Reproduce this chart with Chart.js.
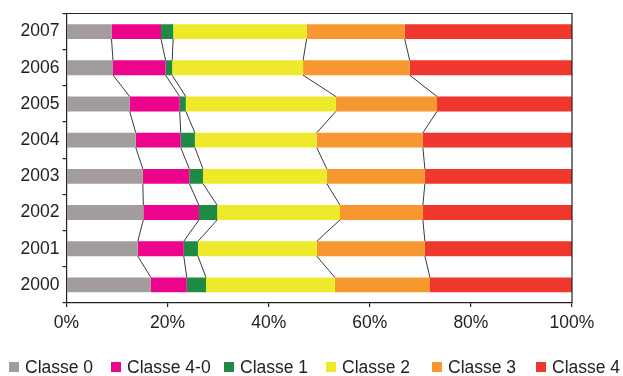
<!DOCTYPE html>
<html>
<head>
<meta charset="utf-8">
<script src="https://cdn.jsdelivr.net/npm/chart.js@4/dist/chart.umd.min.js"></script>
<style>
  html, body { margin: 0; padding: 0; background: #fff; }
  #wrap { position: relative; width: 623px; height: 376px; }
  #legend {
    position: absolute; left: 0; top: 356px; width: 623px; height: 22px;
    font: 17.5px "Liberation Sans", Arial, sans-serif; color: #222;
    white-space: nowrap;
  }
  #legend .item { position: absolute; top: 0; display: flex; align-items: center; height: 22px; }
  #legend .box { width: 10px; height: 10px; margin-right: 6px; }
</style>
</head>
<body>
<div id="wrap">
  <canvas id="c"></canvas>
  <div id="legend"></div>
</div>
<script>
// Years, top row first
const years = ['2007', '2006', '2005', '2004', '2003', '2002', '2001', '2000'];

// Share of each class per year (%)
const classe0  = [8.9, 9.2, 12.5, 13.7, 15.1, 15.2, 14.1, 16.7];
const classe40 = [9.8, 10.4, 9.9, 8.9, 9.2, 11.0, 9.1, 7.1];
const classe1  = [2.4, 1.3, 1.2, 2.8, 2.7, 3.6, 2.8, 3.8];
const classe2  = [26.4, 25.9, 29.7, 24.1, 24.5, 24.3, 23.5, 25.5];
const classe3  = [19.4, 21.1, 20.0, 21.0, 19.4, 16.4, 21.4, 18.8];
const classe4  = [33.1, 32.1, 26.7, 29.5, 29.1, 29.5, 29.1, 28.1];

const seriesNames = ['Classe 0', 'Classe 4-0', 'Classe 1', 'Classe 2', 'Classe 3', 'Classe 4'];
const seriesValues = [classe0, classe40, classe1, classe2, classe3, classe4];
const seriesColors = ['#a29d9c', '#ec058c', '#1f8a44', '#eee92b', '#f7972f', '#ef372e'];

const xTicks = [0, 20, 40, 60, 80, 100];

// legend entry offsets (px from left edge)
const legendLeft = [9, 111, 224, 326, 432, 536];

const FONT = { family: '"Liberation Sans", Arial, sans-serif', size: 17.5 };
const INK = '#222';

// Series lines joining matching boundaries of consecutive bars, plus frame
const seriesLines = {
  id: 'seriesLines',
  afterDatasetsDraw(chart) {
    const ctx = chart.ctx;
    const n = chart.data.labels.length;
    ctx.save();
    ctx.strokeStyle = '#3a3a3a';
    ctx.lineWidth = 1;
    for (let d = 0; d < chart.data.datasets.length - 1; d++) {
      const bars = chart.getDatasetMeta(d).data;
      for (let i = 0; i < n - 1; i++) {
        const a = bars[i], b = bars[i + 1];
        ctx.beginPath();
        ctx.moveTo(a.x, a.y + a.height / 2);
        ctx.lineTo(b.x, b.y - b.height / 2);
        ctx.stroke();
      }
    }
    // top and right frame of the plot area
    const ca = chart.chartArea;
    ctx.strokeStyle = INK;
    ctx.lineWidth = 1.2;
    ctx.beginPath();
    ctx.moveTo(ca.left, ca.top);
    ctx.lineTo(ca.right, ca.top);
    ctx.lineTo(ca.right, ca.bottom);
    ctx.stroke();
    ctx.restore();
  }
};

new Chart(document.getElementById('c'), {
  type: 'bar',
  data: {
    labels: years,
    datasets: seriesNames.map((name, k) => ({
      label: name,
      data: seriesValues[k],
      backgroundColor: seriesColors[k],
      borderWidth: 0,
      barPercentage: 0.41,
      categoryPercentage: 1
    }))
  },
  options: {
    indexAxis: 'y',
    responsive: true,
    maintainAspectRatio: false,
    animation: false,
    layout: { padding: { left: 0, right: 51, top: 11, bottom: 43 } },
    plugins: { legend: { display: false }, tooltip: { enabled: false } },
    scales: {
      x: {
        stacked: true,
        min: 0, max: 100,
        afterBuildTicks: s => { s.ticks = xTicks.map(v => ({ value: v })); },
        afterFit: s => { s.height = 30; },
        border: { color: INK, width: 1.2 },
        grid: { drawOnChartArea: false, drawTicks: true, tickLength: 4, color: INK, lineWidth: 1.2 },
        ticks: { color: INK, font: FONT, padding: 6, callback: v => v + '%' }
      },
      y: {
        stacked: true,
        afterFit: s => { s.width = 66.5; },
        border: { color: INK, width: 1.2 },
        grid: { drawOnChartArea: false, drawTicks: true, tickLength: 4, color: INK, lineWidth: 1.2, offset: true },
        ticks: { color: INK, font: FONT, padding: 3 }
      }
    }
  },
  plugins: [seriesLines]
});

// Legend below the chart
const legend = document.getElementById('legend');
seriesNames.forEach((name, k) => {
  const item = document.createElement('span');
  item.className = 'item';
  item.style.left = legendLeft[k] + 'px';
  const box = document.createElement('span');
  box.className = 'box';
  box.style.background = seriesColors[k];
  const txt = document.createElement('span');
  txt.textContent = name;
  item.appendChild(box);
  item.appendChild(txt);
  legend.appendChild(item);
});
</script>
</body>
</html>
